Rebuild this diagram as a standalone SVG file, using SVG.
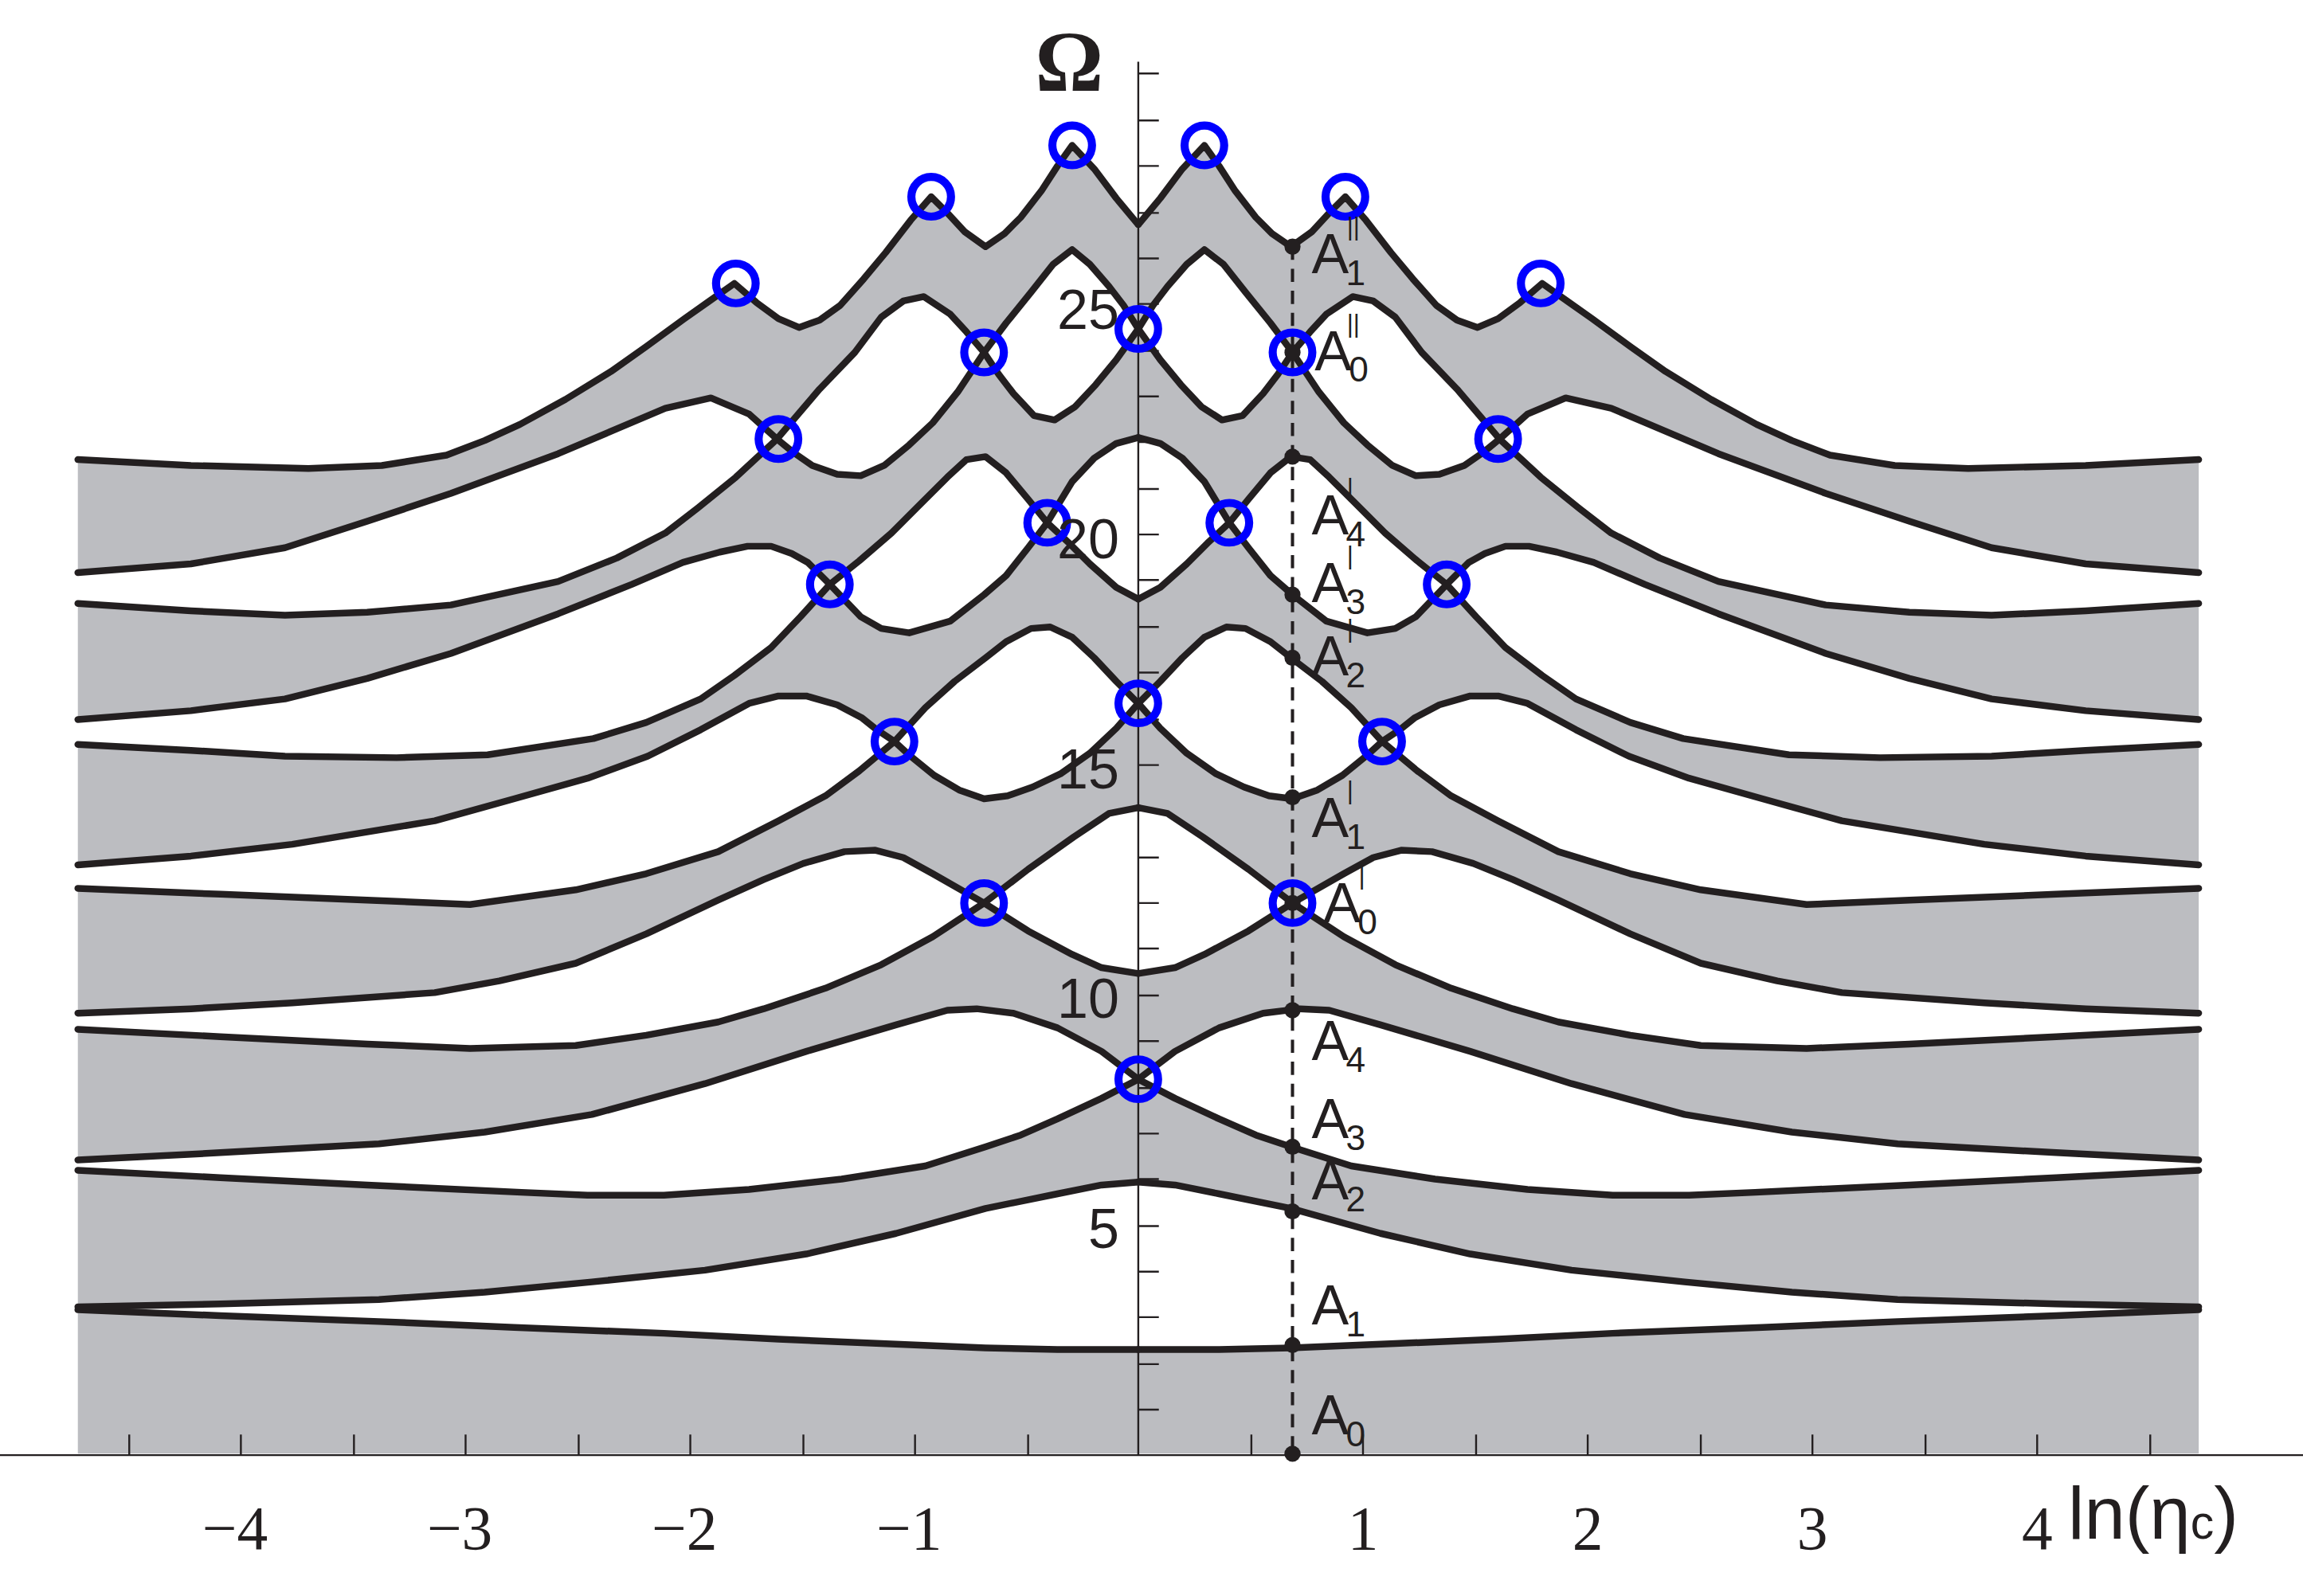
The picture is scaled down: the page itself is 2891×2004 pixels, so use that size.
<svg xmlns="http://www.w3.org/2000/svg" xmlns:xlink="http://www.w3.org/1999/xlink" width="2891" height="2004" viewBox="0 0 2891 2004">
<style>
.crv{fill:none;stroke:#231f20;stroke-width:4.6;stroke-linejoin:round;stroke-linecap:round}
.ring{fill:none;stroke:#0000ff;stroke-width:5.5}
.dot{fill:#231f20}
.lab{font-family:"Liberation Sans",Arial,sans-serif;font-size:38px;fill:#231f20}
.sub{font-family:"Liberation Sans",Arial,sans-serif;font-size:24px;fill:#231f20}
.pr{font-family:"Liberation Sans",Arial,sans-serif;font-size:17px;fill:#231f20}
.tk{stroke:#231f20;stroke-width:1.3}
.xl{font-family:"Liberation Serif","Times New Roman",serif;font-size:42px;fill:#231f20;text-anchor:middle}
.yl{font-family:"Liberation Sans",Arial,sans-serif;font-size:38px;fill:#231f20;text-anchor:end}
</style>
<rect width="2891" height="2004" fill="#fff"/>
<g transform="scale(1.84375)">
<defs>
<path id="fillR" fill-rule="evenodd" d="
M775,919 L830,919 879,918 950,915 1020,912 1098,908 1200,904 1292,900 1400,896 1497,892 L1497,990 L775,990 Z
M775,805 L800,807 830,813 879,823 940,840 1001,854 1070,865 1147,873 1220,880 1292,885 1400,888 1497,890 L1497,990 L775,990 Z
M775,735 L800,748 830,762 855,773 879,781 920,794 977,803 1040,810 1098,814 1150,814 1195,812 1300,807 1400,802 1497,797 L1497,990 L775,990 Z
M775,735 L800,716 830,700 860,690 885,687 905,688 940,698 1001,716 1070,738 1147,759 1220,771 1292,779 1400,785 1497,790 L1497,990 L775,990 Z
M775,550 L795,554 819,570 850,592 880,615 915,638 950,657 988,673 1030,687 1061,696 1110,705 1158,712 1230,714 1300,711 1400,706 1497,701 L1497,990 L775,990 Z
M775,663 L800,659 820,650 850,634 880,615 915,595 935,584 954,579 975,580 1003,588 1030,599 1061,613 1110,636 1158,656 1210,668 1254,676 1351,683 1420,687 1497,690 L1497,990 L775,990 Z
M775,479 L790,464 805,448 820,434 835,427 848,428 865,437 879,448 900,464 920,482 941,505 965,525 988,542 1020,559 1061,580 1110,595 1158,606 1230,616 1300,613 1400,609 1497,605 L1497,990 L775,990 Z
M775,479 L790,496 808,513 828,527 847,536 864,542 880,544 897,538 914,528 930,515 941,505 953,497 963,489 980,480 1001,474 1020,474 1040,479 1073,497 1109,515 1150,530 1200,544 1254,559 1351,575 1420,583 1497,589 L1497,990 L775,990 Z
M775,408 L790,400 808,384 822,370 837,356 850,340 865,322 879,311 892,313 905,325 925,345 943,363 965,382 985,398 1005,420 1025,441 1050,460 1073,476 1110,492 1146,503 1218,514 1280,516 1356,515 1420,511 1497,507 L1497,990 L775,990 Z
M775,298 L790,302 805,312 820,328 837,356 850,373 865,392 880,405 903,423 931,431 950,428 964,420 985,398 1000,383 1011,377 1025,372 1041,372 1060,376 1085,383 1120,398 1170,418 1243,445 1300,462 1356,476 1420,484 1497,490 L1497,990 L775,990 Z
M775,224 L790,245 804,262 818,277 832,286 846,283 860,268 870,255 880,240 892,226 903,214 921,202 935,205 950,216 968,240 992,265 1021,299 1049,325 1075,346 1097,363 1130,380 1170,396 1243,412 1300,417 1356,419 1420,416 1497,411 L1497,990 L775,990 Z
M775,224 L785,208 795,195 808,180 820,170 833,180 848,199 865,220 880,240 898,267 915,288 931,303 948,317 964,324 980,323 997,317 1010,308 1021,299 1040,282 1066,271 1097,278 1130,292 1170,309 1243,336 1300,355 1356,373 1420,384 1497,390 L1497,990 L775,990 Z
M775,153 L790,135 805,115 820,99 830,113 841,130 855,148 866,159 879,168 893,158 905,145 916,134 930,150 947,172 962,190 978,208 992,218 1006,223 1020,217 1035,206 1050,193 1067,205 1084,217 1110,236 1134,253 1165,272 1196,289 1220,300 1246,310 1290,317 1340,319 1420,317 1497,313 L1497,990 L775,990 Z"/>
<g id="curvesR" class="crv">
<polyline points="775,919 830,919 879,918 950,915 1020,912 1098,908 1200,904 1292,900 1400,896 1497,892"/>
<polyline points="775,805 800,807 830,813 879,823 940,840 1001,854 1070,865 1147,873 1220,880 1292,885 1400,888 1497,890"/>
<polyline points="775,735 800,748 830,762 855,773 879,781 920,794 977,803 1040,810 1098,814 1150,814 1195,812 1300,807 1400,802 1497,797"/>
<polyline points="775,735 800,716 830,700 860,690 885,687 905,688 940,698 1001,716 1070,738 1147,759 1220,771 1292,779 1400,785 1497,790"/>
<polyline points="775,550 795,554 819,570 850,592 880,615 915,638 950,657 988,673 1030,687 1061,696 1110,705 1158,712 1230,714 1300,711 1400,706 1497,701"/>
<polyline points="775,663 800,659 820,650 850,634 880,615 915,595 935,584 954,579 975,580 1003,588 1030,599 1061,613 1110,636 1158,656 1210,668 1254,676 1351,683 1420,687 1497,690"/>
<polyline points="775,479 790,464 805,448 820,434 835,427 848,428 865,437 879,448 900,464 920,482 941,505 965,525 988,542 1020,559 1061,580 1110,595 1158,606 1230,616 1300,613 1400,609 1497,605"/>
<polyline points="775,479 790,496 808,513 828,527 847,536 864,542 880,544 897,538 914,528 930,515 941,505 953,497 963,489 980,480 1001,474 1020,474 1040,479 1073,497 1109,515 1150,530 1200,544 1254,559 1351,575 1420,583 1497,589"/>
<polyline points="775,408 790,400 808,384 822,370 837,356 850,340 865,322 879,311 892,313 905,325 925,345 943,363 965,382 985,398 1005,420 1025,441 1050,460 1073,476 1110,492 1146,503 1218,514 1280,516 1356,515 1420,511 1497,507"/>
<polyline points="775,298 790,302 805,312 820,328 837,356 850,373 865,392 880,405 903,423 931,431 950,428 964,420 985,398 1000,383 1011,377 1025,372 1041,372 1060,376 1085,383 1120,398 1170,418 1243,445 1300,462 1356,476 1420,484 1497,490"/>
<polyline points="775,224 790,245 804,262 818,277 832,286 846,283 860,268 870,255 880,240 892,226 903,214 921,202 935,205 950,216 968,240 992,265 1021,299 1049,325 1075,346 1097,363 1130,380 1170,396 1243,412 1300,417 1356,419 1420,416 1497,411"/>
<polyline points="775,224 785,208 795,195 808,180 820,170 833,180 848,199 865,220 880,240 898,267 915,288 931,303 948,317 964,324 980,323 997,317 1010,308 1021,299 1040,282 1066,271 1097,278 1130,292 1170,309 1243,336 1300,355 1356,373 1420,384 1497,390"/>
<polyline points="775,153 790,135 805,115 820,99 830,113 841,130 855,148 866,159 879,168 893,158 905,145 916,134 930,150 947,172 962,190 978,208 992,218 1006,223 1020,217 1035,206 1050,193 1067,205 1084,217 1110,236 1134,253 1165,272 1196,289 1220,300 1246,310 1290,317 1340,319 1420,317 1497,313"/>
</g>
<g id="ringsR" class="ring">
<circle cx="820" cy="99" r="13.5"/><circle cx="916" cy="134" r="13.5"/><circle cx="1049" cy="193" r="13.5"/>
<circle cx="880" cy="240" r="13.5"/><circle cx="1020" cy="299" r="13.5"/><circle cx="837" cy="356" r="13.5"/>
<circle cx="985" cy="398" r="13.5"/><circle cx="941" cy="505" r="13.5"/><circle cx="880" cy="615" r="13.5"/>
</g>
</defs>
<g id="bands" fill="#bcbdc1">
<use xlink:href="#fillR"/>
<use xlink:href="#fillR" transform="matrix(-1,0,0,1,1550,0)"/>
</g>
<g id="axes">
<line x1="0" y1="991" x2="1568" y2="991" class="tk" stroke-width="1.6"/>
<line x1="775" y1="42" x2="775" y2="991" class="tk" stroke-width="1.6"/>
<g class="tk">
<path d="M88,991v-14M164,991v-14M241,991v-14M317,991v-14M394,991v-14M470,991v-14M547,991v-14M623,991v-14M700,991v-14M852,991v-14M928,991v-14M1005,991v-14M1081,991v-14M1158,991v-14M1234,991v-14M1311,991v-14M1387,991v-14M1464,991v-14"/>
<path d="M775,960h14M775,929h14M775,897h14M775,866h14M775,835h14M775,803h14M775,772h14M775,741h14M775,709h14M775,678h14M775,646h14M775,615h14M775,584h14M775,552h14M775,521h14M775,490h14M775,458h14M775,427h14M775,395h14M775,364h14M775,333h14M775,301h14M775,270h14M775,239h14M775,207h14M775,176h14M775,145h14M775,113h14M775,82h14M775,50h14"/>
</g>
</g>
<g id="connectors">
<use xlink:href="#curvesR"/>
<use xlink:href="#curvesR" transform="matrix(-1,0,0,1,1550,0)"/>
<line x1="880" y1="168" x2="880" y2="990" stroke="#231f20" stroke-width="2.2" stroke-dasharray="9,6"/>
</g>
<g id="dots" class="dot">
<circle cx="880" cy="990" r="5.5"/><circle cx="880" cy="916" r="5.5"/><circle cx="880" cy="825" r="5.5"/>
<circle cx="880" cy="781" r="5.5"/><circle cx="880" cy="688" r="5.5"/><circle cx="880" cy="615" r="5.5"/>
<circle cx="880" cy="543" r="5.5"/><circle cx="880" cy="448" r="5.5"/><circle cx="880" cy="405" r="5.5"/>
<circle cx="880" cy="311" r="5.5"/><circle cx="880" cy="240" r="5.5"/><circle cx="880" cy="168" r="5.5"/>
</g>
<g id="crossings">
<use xlink:href="#ringsR"/>
<use xlink:href="#ringsR" transform="matrix(-1,0,0,1,1550,0)"/>
<g class="ring"><circle cx="775" cy="224" r="13.5"/><circle cx="775" cy="479" r="13.5"/><circle cx="775" cy="735" r="13.5"/></g>
</g>
<g id="labels">
<text class="lab" x="893" y="977">A<tspan class="sub" dx="-2" dy="8">0</tspan></text>
<text class="lab" x="893" y="902">A<tspan class="sub" dx="-2" dy="8">1</tspan></text>
<text class="lab" x="893" y="817">A<tspan class="sub" dx="-2" dy="8">2</tspan></text>
<text class="lab" x="893" y="775">A<tspan class="sub" dx="-2" dy="8">3</tspan></text>
<text class="lab" x="893" y="722">A<tspan class="sub" dx="-2" dy="8">4</tspan></text>
<text class="lab" x="901" y="628">A<tspan class="sub" dx="-2" dy="8">0</tspan></text>
<text class="pr" x="925" y="602">|</text>
<text class="lab" x="893" y="570">A<tspan class="sub" dx="-2" dy="8">1</tspan></text>
<text class="pr" x="917" y="544">|</text>
<text class="lab" x="893" y="460">A<tspan class="sub" dx="-2" dy="8">2</tspan></text>
<text class="pr" x="917" y="434">|</text>
<text class="lab" x="893" y="410">A<tspan class="sub" dx="-2" dy="8">3</tspan></text>
<text class="pr" x="917" y="384">|</text>
<text class="lab" x="893" y="364">A<tspan class="sub" dx="-2" dy="8">4</tspan></text>
<text class="pr" x="917" y="338">|</text>
<text class="lab" x="895" y="252">A<tspan class="sub" dx="-2" dy="8">0</tspan></text>
<text class="pr" x="917" y="226">||</text>
<text class="lab" x="893" y="186">A<tspan class="sub" dx="-2" dy="8">1</tspan></text>
<text class="pr" x="917" y="160">||</text>
<text class="yl" x="762" y="850">5</text>
<text class="yl" x="762" y="693">10</text>
<text class="yl" x="762" y="537">15</text>
<text class="yl" x="762" y="380">20</text>
<text class="yl" x="762" y="224">25</text>
<text x="728" y="62" font-family="'Liberation Serif',serif" font-weight="bold" font-size="58" fill="#231f20" text-anchor="middle">Ω</text>
<text class="xl" x="160" y="1055">−4</text>
<text class="xl" x="313" y="1055">−3</text>
<text class="xl" x="466" y="1055">−2</text>
<text class="xl" x="619" y="1055">−1</text>
<text class="xl" x="928" y="1055">1</text>
<text class="xl" x="1081" y="1055">2</text>
<text class="xl" x="1234" y="1055">3</text>
<text class="xl" x="1387" y="1055">4</text>
<text x="1408" y="1048" font-family="'Liberation Sans',Arial,sans-serif" font-size="50" fill="#231f20">ln(η<tspan font-size="32">c</tspan>)</text>
</g>
</g>
</svg>
